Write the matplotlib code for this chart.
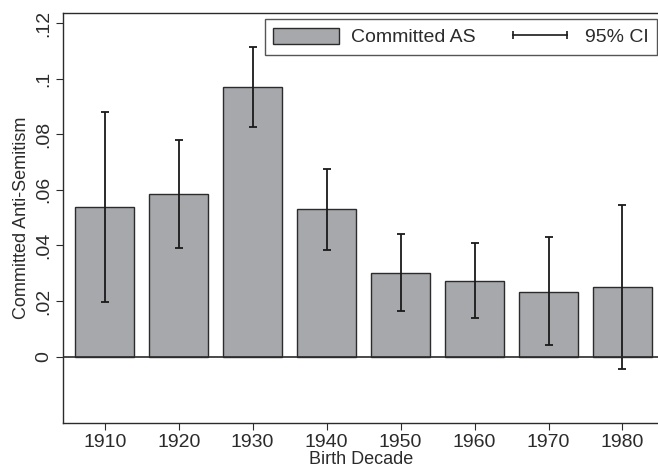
import numpy as np
import matplotlib.pyplot as plt
from matplotlib.patches import Patch
from matplotlib.lines import Line2D

# dati
decadi = [1910, 1920, 1930, 1940, 1950, 1960, 1970, 1980]
media = [0.0537, 0.0585, 0.0969, 0.0530, 0.0302, 0.0273, 0.0234, 0.0250]
ci_alto = [0.0879, 0.0780, 0.1113, 0.0676, 0.0440, 0.0410, 0.0429, 0.0547]
ci_basso = [0.0196, 0.0392, 0.0827, 0.0383, 0.0164, 0.0138, 0.0041, -0.0045]
tick_y = [0, 0.02, 0.04, 0.06, 0.08, 0.1, 0.12]
etichette_y = ["0", ".02", ".04", ".06", ".08", ".1", ".12"]

plt.rcParams['font.family'] = ['Liberation Sans', 'DejaVu Sans']
scuro = "#2b2b2b"

fig = plt.figure(figsize=(6.58, 4.71), dpi=100)
ax = fig.add_axes([0.0962, 0.1013, 0.9038, 0.8717])

ax.bar(decadi, media, width=8, color="#a7a8ac", edgecolor=scuro, linewidth=1.0, zorder=2)
media = np.array(media)
err = [media - np.array(ci_basso), np.array(ci_alto) - media]
ax.errorbar(decadi, media, yerr=err, fmt="none", ecolor="#1a1a1a", elinewidth=1.3,
            capsize=3, capthick=1.3, zorder=3)
ax.axhline(0, color=scuro, linewidth=1.2, zorder=4)

ax.set_xlim(1904.4, 1984.8)
ax.set_ylim(-0.024, 0.1237)
ax.set_xticks(decadi)
ax.set_xticklabels([str(d) for d in decadi])
ax.set_yticks(tick_y)
ax.set_yticklabels(etichette_y, rotation=90, va="center")
ax.tick_params(axis="both", labelsize=14, colors=scuro, length=5, width=0.8, pad=3)

for lato in ["left", "bottom", "top"]:
    ax.spines[lato].set_color(scuro)
    ax.spines[lato].set_linewidth(1.0)
ax.spines["right"].set_visible(False)

ax.set_xlabel("Birth Decade", fontsize=13, color=scuro, labelpad=0)
ax.set_ylabel("Committed Anti-Semitism", fontsize=13, color=scuro, labelpad=4)

maniglie = [Patch(facecolor="#a7a8ac", edgecolor=scuro, linewidth=1.0),
            Line2D([], [], color="#1a1a1a", linewidth=1.2, marker="|", markersize=6,
                   markeredgewidth=1.2)]
leg = ax.legend(maniglie, ["Committed AS", "95% CI"], ncol=2, loc="upper right",
                fontsize=14, numpoints=2, handlelength=3.4, handleheight=0.9,
                frameon=True, fancybox=False, edgecolor=scuro, borderpad=0.45,
                columnspacing=1.6, handletextpad=0.6, borderaxespad=0,
                bbox_to_anchor=(0.9985, 0.985))
leg.get_frame().set_linewidth(1.0)
for t in leg.get_texts():
    t.set_color(scuro)

fig.savefig("out.png", dpi=100)
